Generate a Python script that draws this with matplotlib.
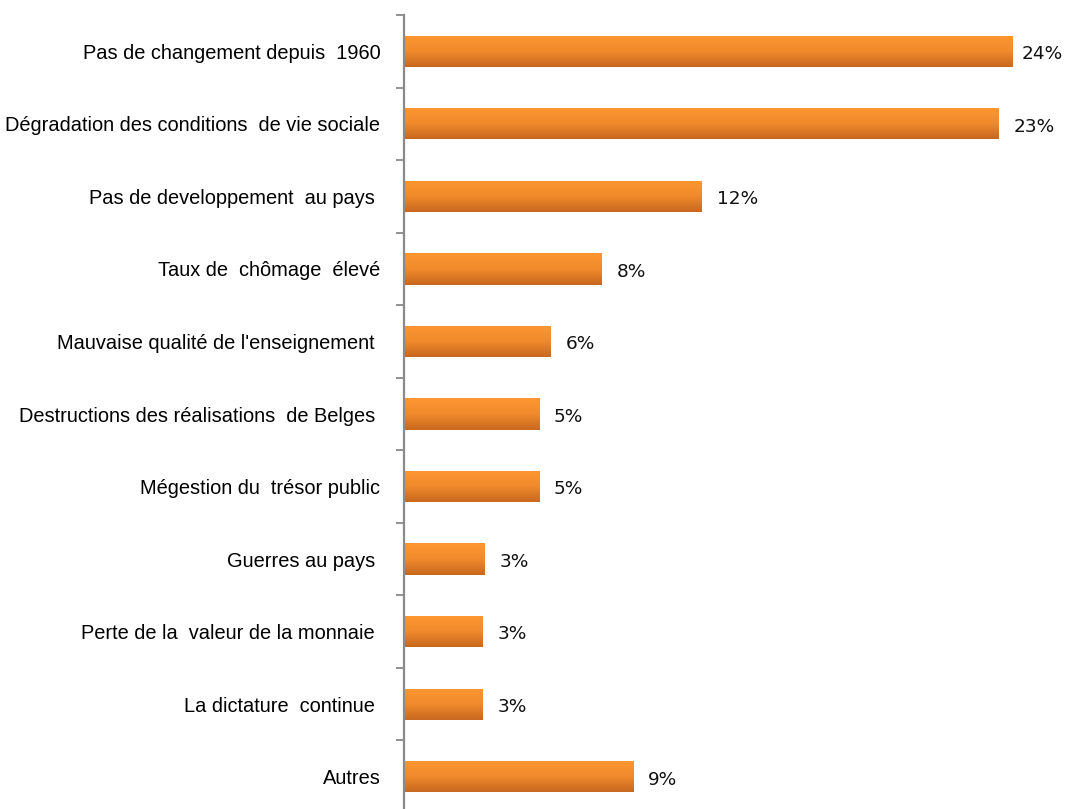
import numpy as np
import matplotlib
matplotlib.use('Agg')
import matplotlib.pyplot as plt
from matplotlib.colors import LinearSegmentedColormap

categories = [
    'Pas de changement depuis  1960',
    'Dégradation des conditions  de vie sociale',
    'Pas de developpement  au pays ',
    'Taux de  chômage  élevé',
    "Mauvaise qualité de l'enseignement ",
    'Destructions des réalisations  de Belges ',
    'Mégestion du  trésor public',
    'Guerres au pays ',
    'Perte de la  valeur de la monnaie ',
    'La dictature  continue ',
    'Autres',
]
values = [23.95, 23.4, 11.7, 7.75, 5.75, 5.28, 5.28, 3.15, 3.05, 3.05, 9.0]
value_labels = ['24%', '23%', '12%', '8%', '6%', '5%', '5%', '3%', '3%', '3%', '9%']

W, H = 1067, 809
fig = plt.figure(figsize=(W / 100, H / 100), dpi=100)
ax = fig.add_axes([404 / W, -4 / H, 660 / W, 798 / H])

y = np.arange(len(categories))
bars = ax.barh(y, values, height=0.43, left=0.05, color='none', edgecolor='none')

# vertical gradient on each bar (light orange on top, darker at bottom)
cmap = LinearSegmentedColormap.from_list('org', ['#fe9631', '#f08a2b', '#c9681f'])
grad = np.linspace(0, 1, 64).reshape(-1, 1)
for b in bars:
    x0, y0 = b.get_x(), b.get_y()
    w, h = b.get_width(), b.get_height()
    im = ax.imshow(grad, cmap=cmap, aspect='auto',
                   extent=[x0, x0 + w, y0 + h, y0], origin='upper', zorder=2)
    im.set_clip_path(b)

for i, (yi, v, lab) in enumerate(zip(y, values, value_labels)):
    off = 6 if i == 0 else 10.5   # first label squeezed against the edge
    ax.annotate(lab, (v + 0.05, yi), xytext=(off, -2), textcoords='offset points',
                va='center', ha='left', fontsize=13.3, family='DejaVu Sans',
                color='#111111')

ax.set_xlim(0, 26)
ax.set_ylim(len(categories) - 0.5, -0.5)

ax.set_yticks(y)
ax.set_yticklabels(categories, family='Liberation Sans', fontsize=14.4)
ax.set_yticks(np.arange(len(categories) + 1) - 0.5, minor=True)
ax.tick_params(axis='y', which='major', length=0, pad=17)
ax.tick_params(axis='y', which='minor', length=6, width=1.3, color='#8a8a8a')
ax.set_xticks([])

for s in ['top', 'right', 'bottom']:
    ax.spines[s].set_visible(False)
ax.spines['left'].set_color('#8a8a8a')
ax.spines['left'].set_linewidth(1.6)

fig.savefig('out.png', dpi=100)
